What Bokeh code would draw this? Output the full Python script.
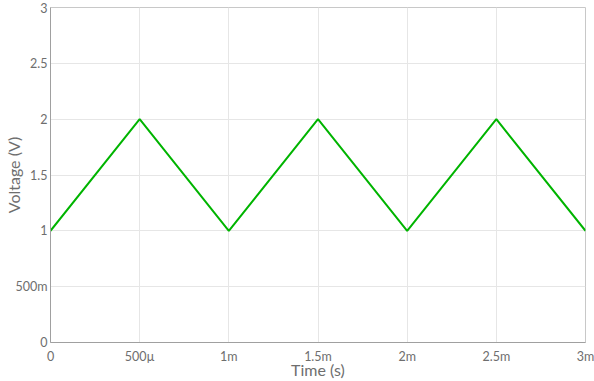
from bokeh.plotting import figure
from bokeh.models import FixedTicker, Range1d
from bokeh.embed import file_html
from bokeh.resources import INLINE

time_s = [0, 0.0005, 0.001, 0.0015, 0.002, 0.0025, 0.003]
voltage_v = [1, 2, 1, 2, 1, 2, 1]

x_ticks = [0, 0.0005, 0.001, 0.0015, 0.002, 0.0025, 0.003]
x_tick_labels = ["0", "500µ", "1m", "1.5m", "2m", "2.5m", "3m"]
y_ticks = [0, 0.5, 1, 1.5, 2, 2.5, 3]
y_tick_labels = ["0", "500m", "1", "1.5", "2", "2.5", "3"]

FONT = "Lato"
TICK_COLOR = "#6e6e6e"

p = figure(width=594, height=381, output_backend="svg", toolbar_location=None,
           x_range=Range1d(0, 0.003), y_range=Range1d(0, 3),
           min_border_left=50, min_border_right=9, min_border_top=7, min_border_bottom=39)

p.line(time_s, voltage_v, line_color="#00b400", line_width=2)

p.outline_line_color = "#c8c8c8"
p.outline_line_width = 1

for ax, ticks, labels in ((p.xaxis[0], x_ticks, x_tick_labels), (p.yaxis[0], y_ticks, y_tick_labels)):
    ax.ticker = FixedTicker(ticks=ticks)
    ax.major_label_overrides = {t: l for t, l in zip(ticks, labels)}
    ax.major_tick_out = 0
    ax.major_tick_in = 0
    ax.minor_tick_out = 0
    ax.minor_tick_in = 0
    ax.axis_line_color = "#a0a0a0"
    ax.major_label_text_font = FONT
    ax.major_label_text_font_size = "12.5px"
    ax.major_label_text_color = TICK_COLOR
    ax.axis_label_text_font = FONT
    ax.axis_label_text_font_size = "16px"
    ax.axis_label_text_font_style = "normal"
    ax.axis_label_text_color = TICK_COLOR

p.xaxis.axis_label = "Time (s)"
p.yaxis.axis_label = "Voltage (V)"
p.xaxis.major_label_standoff = 6
p.xaxis.axis_label_standoff = -7
p.yaxis.major_label_standoff = 3
p.yaxis.axis_label_standoff = -11

p.xgrid.grid_line_color = "#e6e6e6"
p.ygrid.grid_line_color = "#e6e6e6"

open("out.html", "w").write(file_html(p, INLINE))
